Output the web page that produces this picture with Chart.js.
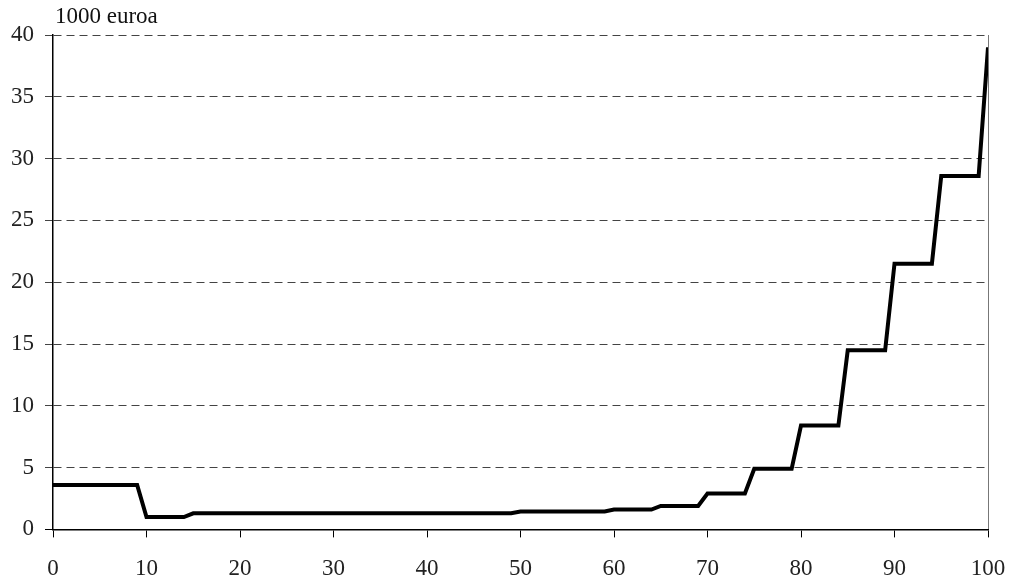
<!DOCTYPE html>
<html>
<head>
<meta charset="utf-8">
<script src="https://cdn.jsdelivr.net/npm/chart.js@4"></script>
<style>
  html, body { margin: 0; padding: 0; background: #fff; }
  #wrap { width: 1011px; height: 580px; }
</style>
</head>
<body>
<div id="wrap"><canvas id="c"></canvas></div>
<script>
// percentile (0-100) and income level, 1000 euroa
const percentiles = [
    0, 1, 2, 3, 4, 5, 6, 7, 8, 9,
    10, 11, 12, 13, 14, 15, 16, 17, 18, 19,
    20, 21, 22, 23, 24, 25, 26, 27, 28, 29,
    30, 31, 32, 33, 34, 35, 36, 37, 38, 39,
    40, 41, 42, 43, 44, 45, 46, 47, 48, 49,
    50, 51, 52, 53, 54, 55, 56, 57, 58, 59,
    60, 61, 62, 63, 64, 65, 66, 67, 68, 69,
    70, 71, 72, 73, 74, 75, 76, 77, 78, 79,
    80, 81, 82, 83, 84, 85, 86, 87, 88, 89,
    90, 91, 92, 93, 94, 95, 96, 97, 98, 99,
    100,
];

const values = [
    3.6, 3.6, 3.6, 3.6, 3.6, 3.6, 3.6, 3.6, 3.6, 3.6,
    1.0, 1.0, 1.0, 1.0, 1.0, 1.3, 1.3, 1.3, 1.3, 1.3,
    1.3, 1.3, 1.3, 1.3, 1.3, 1.3, 1.3, 1.3, 1.3, 1.3,
    1.3, 1.3, 1.3, 1.3, 1.3, 1.3, 1.3, 1.3, 1.3, 1.3,
    1.3, 1.3, 1.3, 1.3, 1.3, 1.3, 1.3, 1.3, 1.3, 1.3,
    1.45, 1.45, 1.45, 1.45, 1.45, 1.45, 1.45, 1.45, 1.45, 1.45,
    1.6, 1.6, 1.6, 1.6, 1.6, 1.9, 1.9, 1.9, 1.9, 1.9,
    2.9, 2.9, 2.9, 2.9, 2.9, 4.9, 4.9, 4.9, 4.9, 4.9,
    8.4, 8.4, 8.4, 8.4, 8.4, 14.5, 14.5, 14.5, 14.5, 14.5,
    21.5, 21.5, 21.5, 21.5, 21.5, 28.6, 28.6, 28.6, 28.6, 28.6,
    39,
];

const unitLabel = '1000 euroa';
const fontFamily = '"Liberation Serif", "DejaVu Serif", serif';

const unitTitle = {
    id: 'unitTitle',
    afterDraw(chart) {
        const { ctx, chartArea } = chart;
        ctx.save();
        ctx.font = '23px ' + fontFamily;
        ctx.fillStyle = '#111';
        ctx.textAlign = 'left';
        ctx.textBaseline = 'alphabetic';
        ctx.fillText(unitLabel, chartArea.left + 2, chartArea.top - 12);
        ctx.restore();
    },
};

new Chart(document.getElementById('c'), {
    type: 'line',
    data: {
        datasets: [{
            data: percentiles.map((p, i) => ({ x: p, y: values[i] })),
            borderColor: '#000',
            borderWidth: 4,
            tension: 0,
            pointRadius: 0,
            fill: false,
        }],
    },
    options: {
        responsive: true,
        maintainAspectRatio: false,
        animation: false,
        layout: { padding: { top: 35, right: 23, left: 0, bottom: 0 } },
        plugins: { legend: { display: false }, tooltip: { enabled: false } },
        scales: {
            x: {
                type: 'linear',
                min: 0,
                max: 100,
                afterFit: (scale) => {
                    scale.height -= 21;
                    scale.paddingRight = 0;
                    scale.paddingLeft = 0;
                },
                ticks: { stepSize: 10, color: '#222', padding: 18, font: { family: fontFamily, size: 23 } },
                grid: {
                    color: (c) => c.index === 10 ? '#777' : 'rgba(0,0,0,0)',
                    tickColor: '#000',
                    tickLength: 8,
                },
                border: { color: '#000', width: 1.5 },
            },
            y: {
                min: 0,
                max: 40,
                ticks: { stepSize: 5, color: '#222', padding: 11, font: { family: fontFamily, size: 23 } },
                grid: {
                    color: (c) => c.index === 0 ? 'rgba(0,0,0,0)' : '#444',
                    tickColor: (c) => c.index === 0 ? '#000' : '#444',
                    tickLength: 8,
                    lineWidth: 1,
                },
                border: { color: '#000', width: 1.5, dash: [8, 5] },
            },
        },
    },
    plugins: [unitTitle],
});
</script>
</body>
</html>
